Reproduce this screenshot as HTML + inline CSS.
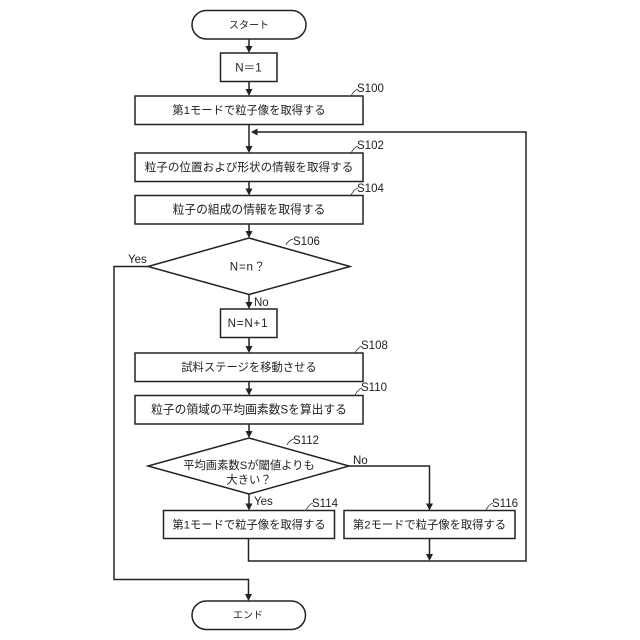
<!DOCTYPE html>
<html><head><meta charset="utf-8"><style>
html,body{margin:0;padding:0;background:#fff}
svg{display:block}
text{font-family:"Liberation Sans","Noto Sans CJK JP",sans-serif;fill:#222;font-size:11.6px}
.c{text-anchor:middle}
.n{font-size:11.3px}
.m{font-size:11.75px}
.k{font-size:10px}
.w{letter-spacing:.8px}
.l{font-size:11.5px}
.s{fill:none;stroke:#222;stroke-width:1.5}
.t{fill:none;stroke:#333;stroke-width:.8}
.a{fill:#222;stroke:none}
</style></head><body>
<svg width="640" height="640" viewBox="0 0 640 640" xmlns="http://www.w3.org/2000/svg">
<rect x="192" y="10.5" width="114" height="28.5" rx="14.25" class="s"/>
<rect x="220.500" y="53" width="56.500" height="28.500" class="s"/>
<rect x="135" y="96" width="228" height="28.500" class="s"/>
<rect x="135" y="153" width="228" height="28.500" class="s"/>
<rect x="135" y="195.500" width="228" height="28.500" class="s"/>
<polygon points="249,238 350,266.500 249,294.500 148,266.500" class="s"/>
<rect x="220.500" y="309" width="56.500" height="28.500" class="s"/>
<rect x="135" y="353" width="228" height="28.500" class="s"/>
<rect x="135" y="395.500" width="228" height="28.500" class="s"/>
<polygon points="249,438 349,466 249,494 148,466" class="s"/>
<rect x="163.500" y="510.500" width="171" height="28" class="s"/>
<rect x="344" y="510.500" width="171" height="28" class="s"/>
<rect x="192" y="601" width="113.500" height="28.500" rx="14.250" class="s"/>

<path class="s" d="M249 39V47M249 81.500V90M249 124.500V147M249 181.500V189M249 224V232M249 294.500V303M249 337.500V347M249 381.500V389M249 424V432M249 494V505"/>
<path class="s" d="M248.500 538.500V561H526V132H257"/>
<path class="s" d="M429.500 538.500V555"/>
<path class="s" d="M349 466H429.500V505"/>
<path class="s" d="M148 266.500H114V579.500H248.500V595"/>
<g class="a">
<polygon points="245.500,46 252.500,46 249,53"/>
<polygon points="245.500,89 252.500,89 249,96"/>
<polygon points="245.500,146 252.500,146 249,153"/>
<polygon points="245.500,188.500 252.500,188.500 249,195.500"/>
<polygon points="245.500,231 252.500,231 249,238"/>
<polygon points="245.500,302 252.500,302 249,309"/>
<polygon points="245.500,346 252.500,346 249,353"/>
<polygon points="245.500,388.500 252.500,388.500 249,395.500"/>
<polygon points="245.500,431 252.500,431 249,438"/>
<polygon points="245.500,503.500 252.500,503.500 249,510.500"/>
<polygon points="426,503.500 433,503.500 429.500,510.500"/>
<polygon points="426,554 433,554 429.500,561"/>
<polygon points="245,594 252,594 248.500,601"/>
<polygon points="257.500,128.500 257.500,135.500 251,132"/>
</g>
<path class="t" d="M351 96C353 92 355 90 358 89M351 153C353 149 355 147 358 146M351 195C353 191 355 189 358 188M286 245C288 241 290 240 293 239M355 353C357 349 359 347 362 346M355 395C357 391 359 389 362 388M287 445C289 441 291 440 294 439M306 510C308 506 310 504 313 503M486 510C488 506 490 504 493 503"/>

<g>
<text class="c k" x="249" y="28.500">スタート</text>
<text class="c" x="248.500" y="71.500">N＝1</text>
<text class="c n" x="249" y="114">第1モードで粒子像を取得する</text>
<text class="c" x="249" y="171">粒子の位置および形状の情報を取得する</text>
<text class="c m" x="249" y="213.500">粒子の組成の情報を取得する</text>
<text class="c w" x="248" y="270.500">N=n？</text>
<text class="c w" x="248" y="327">N=N+1</text>
<text class="c n" x="249" y="371">試料ステージを移動させる</text>
<text class="c m" x="249" y="413.500">粒子の領域の平均画素数Sを算出する</text>
<text class="c n" x="249" y="469">平均画素数Sが閾値よりも</text>
<text class="c n" x="249" y="483.500">大きい？</text>
<text class="c n" x="249" y="528.500">第1モードで粒子像を取得する</text>
<text class="c n" x="429.500" y="528.500">第2モードで粒子像を取得する</text>
<text class="c k" x="248" y="618.500">エンド</text>
</g>
<g class="lbls">
<text class="l" x="357" y="92">S100</text>
<text class="l" x="357" y="149">S102</text>
<text class="l" x="357" y="192">S104</text>
<text class="l" x="293" y="245">S106</text>
<text class="l" x="361" y="349">S108</text>
<text class="l" x="361" y="391">S110</text>
<text class="l" x="293" y="444">S112</text>
<text class="l" x="312" y="507">S114</text>
<text class="l" x="492" y="507">S116</text>
<text class="l" x="128" y="263">Yes</text>
<text class="l" x="254" y="306">No</text>
<text class="l" x="353" y="464">No</text>
<text class="l" x="254" y="505">Yes</text>
</g>
</svg>
</body></html>
